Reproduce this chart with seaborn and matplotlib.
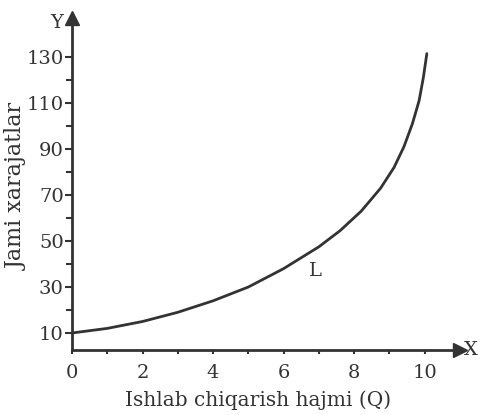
import matplotlib
matplotlib.use("Agg")
import matplotlib.pyplot as plt
import seaborn as sns
import pandas as pd

# Data
Q = [0, 1, 2, 3, 4, 5, 6, 7, 7.6, 8.2, 8.75, 9.13, 9.41, 9.65, 9.84, 9.96, 10.06]
TC = [10, 12, 15, 19, 24, 30, 38, 47.5, 54.5, 63, 73, 82, 91, 101, 111, 121, 131.5]
x_ticks = [0, 2, 4, 6, 8, 10]
y_ticks = [10, 30, 50, 70, 90, 110, 130]

sns.set_theme(style="white")
plt.rcParams['font.family'] = ['DejaVu Serif', 'Liberation Serif']
ink = "#333333"

df = pd.DataFrame({"Q": Q, "TC": TC})

fig = plt.figure(figsize=(4.83, 4.15), dpi=100)
ax = fig.add_axes([72/483, 65/415, (460-72)/483, (350-18)/415])

sns.lineplot(data=df, x="Q", y="TC", ax=ax, color=ink, linewidth=2.0)

x_max, y_min, y_max = 11.0, 2.6, 147
ax.set_xlim(0, x_max)
ax.set_ylim(y_min, y_max)

for s in ["top", "right"]:
    ax.spines[s].set_visible(False)
for s in ["left", "bottom"]:
    ax.spines[s].set_color(ink)
    ax.spines[s].set_linewidth(2.0)

ax.set_xticks(x_ticks)
ax.set_xticks([1, 3, 5, 7, 9], minor=True)
ax.set_yticks(y_ticks)
ax.set_yticks([20, 40, 60, 80, 100, 120], minor=True)
ax.tick_params(axis="both", which="both", direction="out", color=ink, width=1.5,
               labelsize=14, labelcolor=ink, bottom=True, left=True)
ax.tick_params(axis="y", which="major", length=5, pad=1)
ax.tick_params(axis="y", which="minor", length=4)
ax.tick_params(axis="x", which="major", length=3, pad=7)
ax.tick_params(axis="x", which="minor", length=3)

# arrow heads
ax.plot([0], [y_max], marker="^", markersize=10, color=ink, clip_on=False)
ax.plot([x_max], [y_min], marker=">", markersize=10, color=ink, clip_on=False)
ax.text(-0.25, 145, "Y", ha="right", va="center", fontsize=14, color=ink)
ax.text(x_max + 0.12, y_min, "X", ha="left", va="center", fontsize=14, color=ink)
ax.text(6.9, 37, "L", ha="center", va="center", fontsize=14, color=ink)

ax.set_xlabel("Ishlab chiqarish hajmi (Q)", fontsize=14.5, color=ink)
ax.set_ylabel("Jami xarajatlar", fontsize=16, color=ink)
ax.xaxis.set_label_coords((258-72)/(460-72), -0.122)
ax.yaxis.set_label_coords((28-72)/(460-72), (350-186)/(350-18))

fig.savefig("out.png", dpi=100)
